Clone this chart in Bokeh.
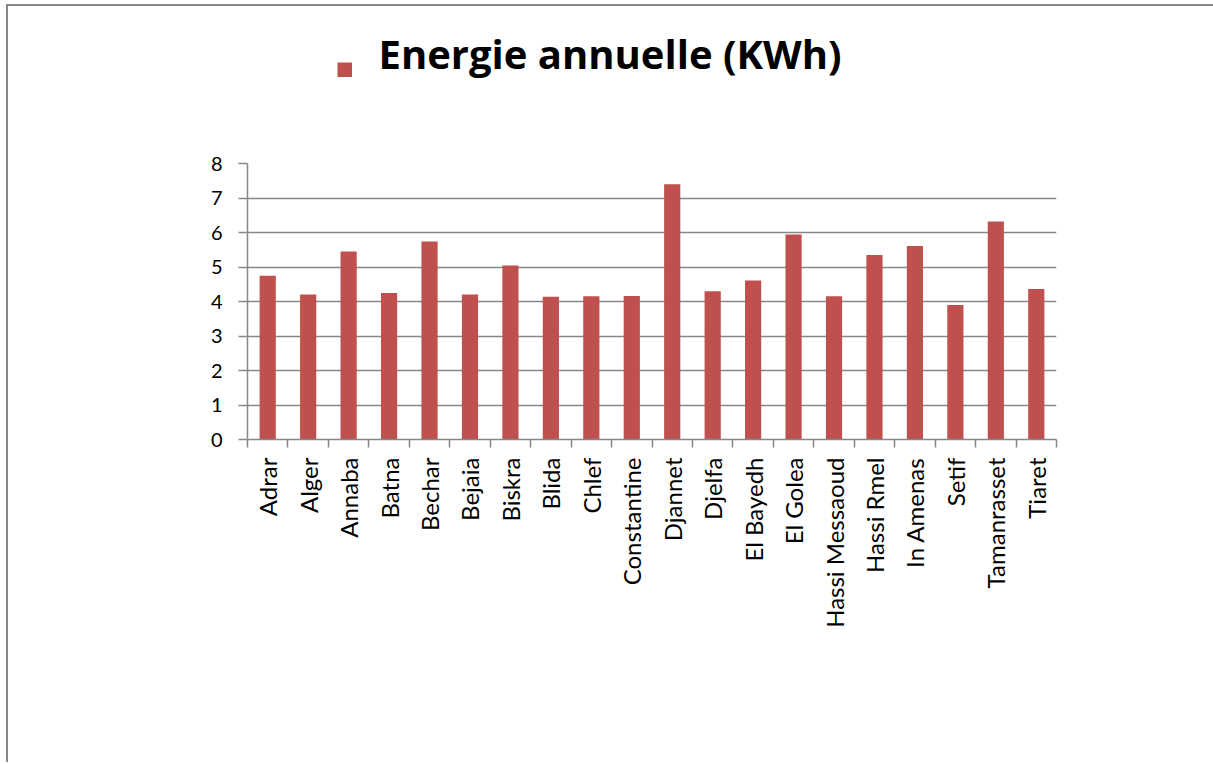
from bokeh.plotting import figure
from bokeh.layouts import column
from bokeh.models import Range1d, FixedTicker, Label, BoxAnnotation, ColumnDataSource
from bokeh.embed import file_html
from bokeh.resources import INLINE
import math

categories = ["Adrar", "Alger", "Annaba", "Batna", "Bechar", "Bejaia", "Biskra",
              "Blida", "Chlef", "Constantine", "Djannet", "Djelfa", "El Bayedh",
              "El Golea", "Hassi Messaoud", "Hassi Rmel", "In Amenas", "Setif",
              "Tamanrasset", "Tiaret"]
energy = [4.75, 4.20, 5.45, 4.25, 5.74, 4.20, 5.04, 4.14, 4.15, 4.16,
          7.40, 4.30, 4.61, 5.94, 4.15, 5.35, 5.61, 3.90, 6.32, 4.36]
y_ticks = [0, 1, 2, 3, 4, 5, 6, 7, 8]
series_name = "Energie annuelle (KWh)"

n = len(categories)
positions = list(range(1, n + 1))
boundaries = [i + 0.5 for i in range(0, n + 1)]

GRAY = "#878787"
BAR = "#C0504D"

src = ColumnDataSource(data=dict(x=positions, top=energy, name=categories))

# ---- legend strip (series key: coloured square + series name) ----
top = figure(width=1205, height=143, min_border=0,
             x_range=Range1d(0, 1), y_range=Range1d(0, 1),
             x_axis_location=None, y_axis_location=None,
             output_backend="svg", toolbar_location=None)
top.grid.visible = False
top.outline_line_color = None
key_box = BoxAnnotation(left=90, right=104.5, top=87, bottom=72.5,
                        left_units="screen", right_units="screen",
                        top_units="screen", bottom_units="screen",
                        fill_color=BAR, fill_alpha=1.0, line_color=None)
top.add_layout(key_box)
key_text = Label(x=131, y=96, x_units="screen", y_units="screen",
                 text=series_name, text_font="Open Sans", text_font_style="bold",
                 text_font_size="40px", text_color="black",
                 text_align="left", text_baseline="alphabetic")
top.add_layout(key_text)

# ---- main chart ----
p = figure(frame_width=809, frame_height=276,
           min_border_left=239, min_border_right=157,
           min_border_top=14, min_border_bottom=323,
           x_range=Range1d(0.5, n + 0.5), y_range=Range1d(0, 8),
           output_backend="svg", toolbar_location=None)

r = p.vbar(x="x", top="top", width=0.4, source=src, fill_color=BAR, line_color=None)

p.outline_line_color = None
p.background_fill_color = "white"
p.border_fill_color = "white"

p.xgrid.grid_line_color = None
p.ygrid.grid_line_color = GRAY
p.ygrid.grid_line_width = 1.5
p.ygrid.ticker = FixedTicker(ticks=y_ticks)

xa = p.xaxis[0]
xa.ticker = FixedTicker(ticks=positions, minor_ticks=boundaries)
xa.major_label_overrides = {pos: name for pos, name in zip(positions, categories)}
xa.major_tick_out = 0
xa.major_tick_in = 0
xa.minor_tick_out = 8
xa.minor_tick_in = 0
xa.minor_tick_line_color = GRAY
xa.minor_tick_line_width = 1.5
xa.axis_line_color = GRAY
xa.axis_line_width = 1.5
xa.major_label_orientation = math.pi / 2
xa.major_label_standoff = 10
xa.major_label_text_font = "Lato"
xa.major_label_text_font_size = "24px"
xa.major_label_text_color = "black"

ya = p.yaxis[0]
ya.ticker = FixedTicker(ticks=y_ticks)
ya.major_tick_out = 9
ya.major_tick_in = 0
ya.minor_tick_out = 0
ya.minor_tick_in = 0
ya.major_tick_line_color = GRAY
ya.major_tick_line_width = 1.5
ya.axis_line_color = GRAY
ya.axis_line_width = 1.5
ya.major_label_standoff = 16
ya.major_label_text_font = "Lato"
ya.major_label_text_font_size = "20px"
ya.major_label_text_color = "black"

layout = column(top, p, spacing=0)
layout.styles = {"border-top": "2px solid " + GRAY, "border-left": "2px solid " + GRAY,
                 "margin-left": "6px", "margin-top": "4px"}

open("out.html", "w").write(file_html(layout, INLINE))
